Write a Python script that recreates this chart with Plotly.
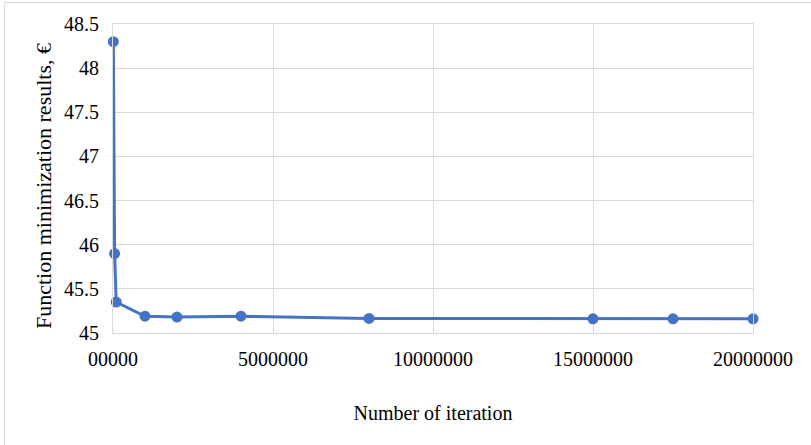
import plotly.graph_objects as go

# Iteration counts and resulting minimum values
iterations = [10000, 50000, 100000, 1000000, 2000000, 4000000, 8000000, 15000000, 17500000, 20000000]
results = [48.3, 45.9, 45.35, 45.19, 45.18, 45.19, 45.165, 45.16, 45.16, 45.16]

x_tick_vals = [0, 5000000, 10000000, 15000000, 20000000]
x_tick_text = ["00000", "5000000", "10000000", "15000000", "20000000"]
y_tick_vals = [45, 45.5, 46, 46.5, 47, 47.5, 48, 48.5]
y_tick_text = ["45", "45.5", "46", "46.5", "47", "47.5", "48", "48.5"]

W, H = 811, 445
L, R, T, B = 113, 58, 24, 112
pw, ph = W - L - R, H - T - B

def px_to_paper(px, py):
    return (px - L) / pw, (H - B - py) / ph

FONT = "Liberation Serif"
GRID = "#d9d9d9"

fig = go.Figure(
    go.Scatter(
        x=iterations,
        y=results,
        mode="lines+markers",
        line=dict(color="#4472C4", width=3),
        marker=dict(color="#4472C4", size=11),
        cliponaxis=False,
    )
)

x0, y0 = px_to_paper(4.5, 445)
x1, y1 = px_to_paper(4.5, 2.5)
x2, _ = px_to_paper(811, 2.5)
fig.add_shape(
    type="path",
    xref="paper", yref="paper",
    path=f"M {x0},{y0} L {x1},{y1} L {x2},{y1}",
    line=dict(color=GRID, width=1),
)

# y-axis title placed as a rotated annotation
tx, ty = px_to_paper(43, 186)
fig.add_annotation(
    text="Function minimization results, €",
    xref="paper", yref="paper", x=tx, y=ty,
    xanchor="center", yanchor="middle",
    textangle=-90, showarrow=False,
    font=dict(family=FONT, size=22, color="#000000"),
)

fig.update_layout(
    width=W, height=H,
    margin=dict(l=L, r=R, t=T, b=B),
    paper_bgcolor="white",
    plot_bgcolor="white",
    showlegend=False,
    font=dict(family=FONT, size=20, color="#000000"),
)
fig.update_xaxes(
    range=[0, 20000000],
    tickvals=x_tick_vals, ticktext=x_tick_text,
    showgrid=True, gridcolor=GRID, gridwidth=1,
    showline=True, linecolor=GRID, mirror=True,
    zeroline=False, ticks="outside", ticklen=8, tickcolor="rgba(0,0,0,0)",
    tickfont=dict(family=FONT, size=20, color="#000000"),
    title=dict(text="Number of iteration", font=dict(family=FONT, size=20), standoff=36),
)
fig.update_yaxes(
    range=[45, 48.5],
    tickvals=y_tick_vals, ticktext=y_tick_text,
    showgrid=True, gridcolor=GRID, gridwidth=1,
    showline=True, linecolor=GRID, mirror=True,
    zeroline=False, ticks="outside", ticklen=9, tickcolor="rgba(0,0,0,0)",
    tickfont=dict(family=FONT, size=20, color="#000000"),
)

fig.write_html("out.html")
